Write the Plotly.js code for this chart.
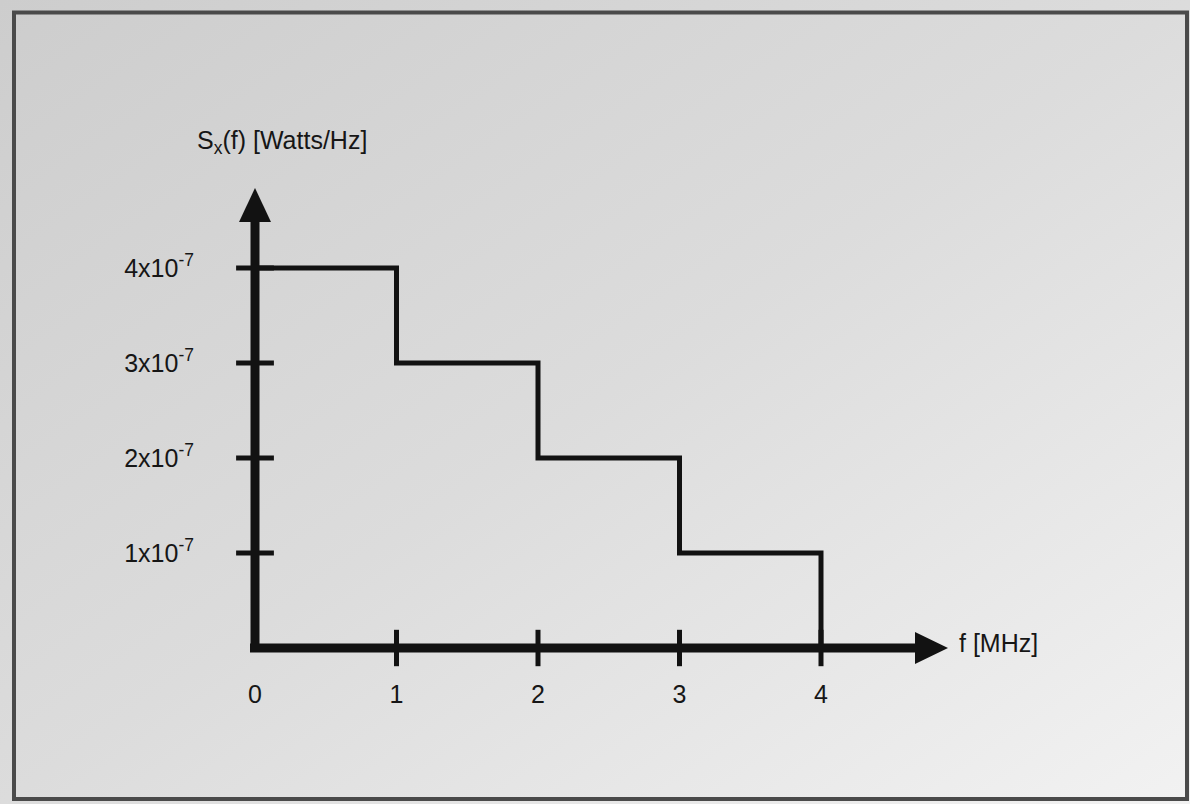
<!DOCTYPE html>
<html>
<head>
<meta charset="utf-8">
<script src="https://cdn.plot.ly/plotly-3.0.1.min.js"></script>
<style>html,body{margin:0;padding:0;background:#d8d8d8;}#chart{width:1190px;height:804px;}</style>
</head>
<body>
<div id="chart"></div>
<script>
// ---- data ----
const freqMHz = [0, 1, 2, 3, 4];
const psdWattsPerHz = [4e-7, 3e-7, 2e-7, 1e-7, 0];
const xTickVals = [0, 1, 2, 3, 4];
const xTickText = ['0', '1', '2', '3', '4'];
const yTickVals = [1e-7, 2e-7, 3e-7, 4e-7];
const yTickText = ['1x10<sup>-7</sup>', '2x10<sup>-7</sup>', '3x10<sup>-7</sup>', '4x10<sup>-7</sup>'];
const yTitle = 'S<sub>x</sub>(f) [Watts/Hz]';
const xTitle = 'f [MHz]';

// ---- geometry ----
const W = 1190, H = 804;
const xRange = [-255 / 141.5, (W - 255) / 141.5];
const yRange = [(648 - H) / 95 * 1e-7, 648 / 95 * 1e-7];
const dx = (xRange[1] - xRange[0]) / W;   // data per px
const dy = (yRange[1] - yRange[0]) / H;

const xMax = Math.max(...freqMHz);
const yMax = Math.max(...psdWattsPerHz);
const xAxisEnd = xMax + 97 * dx, xTip = xMax + 127 * dx;
const yAxisEnd = yMax + 49 * dy, yTip = yMax + 80 * dy;
const ink = '#121212';
const font = {family: 'Liberation Sans, Arial, sans-serif', size: 25, color: '#161616'};

const bg = 'data:image/svg+xml;charset=utf-8,' + encodeURIComponent(
  '<svg xmlns="http://www.w3.org/2000/svg" width="1190" height="804"><defs>' +
  '<linearGradient id="g" x1="0" y1="0" x2="1" y2="1">' +
  '<stop offset="0" stop-color="#cdcdcd"/><stop offset="0.5" stop-color="#dcdcdc"/><stop offset="1" stop-color="#f2f2f2"/>' +
  '</linearGradient></defs><rect width="1190" height="804" fill="url(#g)"/></svg>');

const traces = [
  {x: freqMHz, y: psdWattsPerHz, type: 'scatter', mode: 'lines',
   line: {shape: 'hv', width: 5, color: ink}, hoverinfo: 'skip'},
  {x: xTickVals.slice(1), y: xTickVals.slice(1).map(() => 0), type: 'scatter', mode: 'markers',
   marker: {symbol: 'line-ns', size: 26, line: {width: 5, color: ink}}, hoverinfo: 'skip'},
  {x: yTickVals.map(() => 0), y: yTickVals, type: 'scatter', mode: 'markers',
   marker: {symbol: 'line-ew', size: 27, line: {width: 5, color: ink}}, hoverinfo: 'skip'}
];

const layout = {
  width: W, height: H,
  margin: {l: 0, r: 0, t: 0, b: 0, pad: 0},
  paper_bgcolor: '#d8d8d8', plot_bgcolor: 'rgba(0,0,0,0)',
  showlegend: false,
  font: font,
  images: [{source: bg, xref: 'paper', yref: 'paper', x: 0, y: 1, sizex: 1, sizey: 1,
            sizing: 'stretch', xanchor: 'left', yanchor: 'top', layer: 'below'}],
  xaxis: {range: xRange, showgrid: false, zeroline: false, showline: false, ticks: '',
          tickmode: 'array', tickvals: xTickVals, ticktext: xTickText, tickfont: font,
          anchor: 'free', position: (H - 648) / H, ticklabelstandoff: 29, automargin: false, fixedrange: true},
  yaxis: {range: yRange, showgrid: false, zeroline: false, showline: false, ticks: '',
          tickmode: 'array', tickvals: yTickVals, ticktext: yTickText, tickfont: font,
          anchor: 'free', position: 255 / W, ticklabelstandoff: 61, automargin: false, fixedrange: true},
  shapes: [
    {type: 'line', xref: 'x', yref: 'y', x0: -5 * dx, y0: 0, x1: xAxisEnd, y1: 0, line: {color: ink, width: 9}},
    {type: 'line', xref: 'x', yref: 'y', x0: 0, y0: -4 * dy, x1: 0, y1: yAxisEnd, line: {color: ink, width: 9}},
    {type: 'path', xref: 'x', yref: 'y',
     path: `M ${xAxisEnd - 3 * dx},${16 * dy} L ${xTip},0 L ${xAxisEnd - 3 * dx},${-16 * dy} Z`,
     fillcolor: ink, line: {width: 0}},
    {type: 'path', xref: 'x', yref: 'y',
     path: `M ${-16 * dx},${yAxisEnd - 3 * dy} L 0,${yTip} L ${16 * dx},${yAxisEnd - 3 * dy} Z`,
     fillcolor: ink, line: {width: 0}},
    {type: 'rect', xref: 'paper', yref: 'paper', x0: 14 / W, x1: 1187 / W, y0: 1 - 799 / H, y1: 1 - 12.5 / H,
     line: {color: '#4a4a4a', width: 4}}
  ],
  annotations: [
    {text: yTitle, xref: 'paper', yref: 'paper', x: 282 / W, y: 1 - 142 / H,
     xanchor: 'center', yanchor: 'middle', showarrow: false, font: font},
    {text: xTitle, xref: 'paper', yref: 'paper', x: 957 / W, y: 1 - 643 / H,
     xanchor: 'left', yanchor: 'middle', showarrow: false, font: font}
  ]
};

Plotly.newPlot('chart', traces, layout, {displayModeBar: false});
</script>
</body>
</html>
